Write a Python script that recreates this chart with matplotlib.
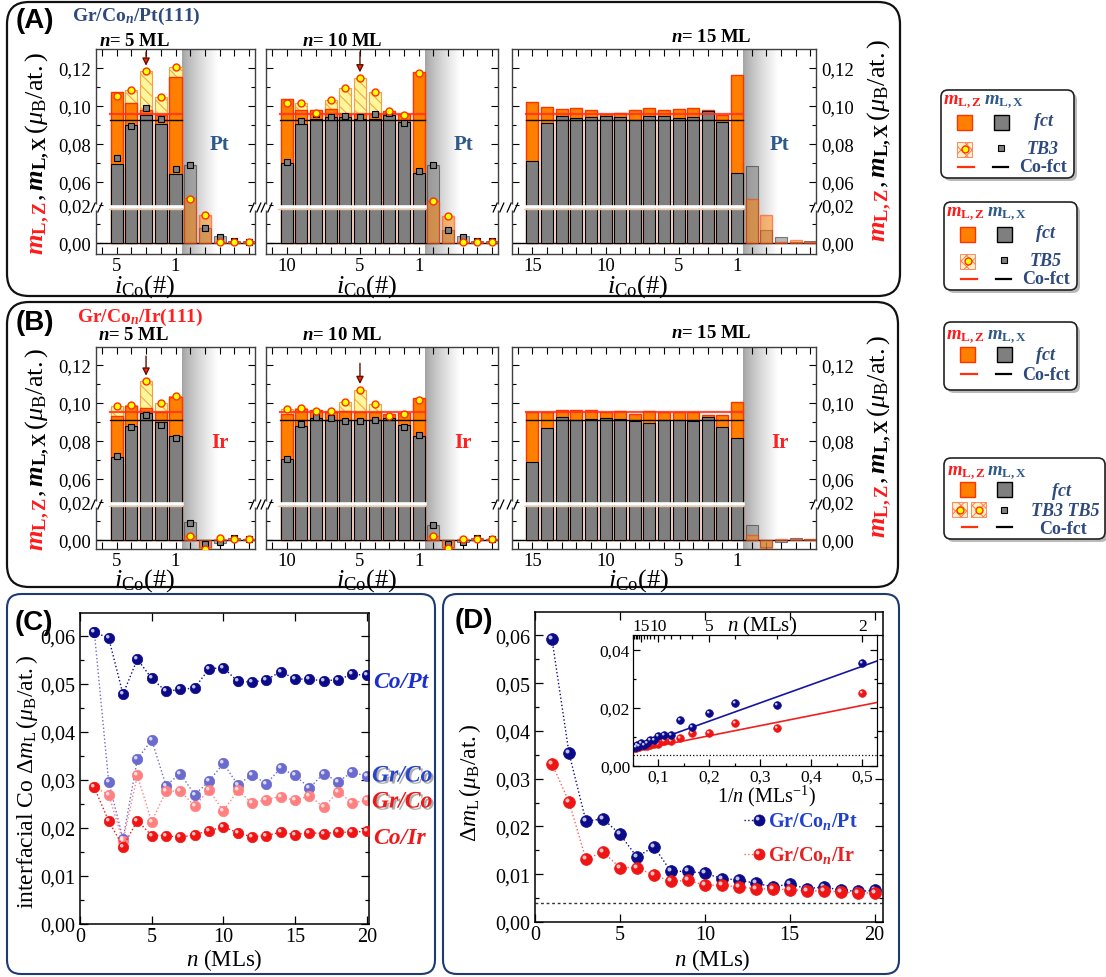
import numpy as np
import matplotlib
matplotlib.use('Agg')
import matplotlib.pyplot as plt
import matplotlib.patheffects as pe
import matplotlib.transforms as mtrans
from matplotlib.patches import Rectangle, FancyBboxPatch
from matplotlib.path import Path
from matplotlib.colors import LinearSegmentedColormap
from matplotlib.ticker import FuncFormatter, MultipleLocator

plt.rcParams['font.family'] = 'Liberation Serif'
plt.rcParams['mathtext.fontset'] = 'custom'
plt.rcParams['mathtext.rm'] = 'Liberation Serif'
plt.rcParams['mathtext.it'] = 'Liberation Serif:italic'
plt.rcParams['mathtext.bf'] = 'Liberation Serif:bold'
plt.rcParams['mathtext.bfit'] = 'Liberation Serif:italic:bold'
plt.rcParams['hatch.linewidth'] = 0.7
plt.rcParams['xtick.direction'] = 'in'
plt.rcParams['ytick.direction'] = 'in'

# ---------------- data: layer resolved orbital moments (A: Pt, B: Ir) ----------------
# Co layers ordered i_Co = n ... 1, then 5 substrate layers
A5_z = [0.1075, 0.1016, 0.0980, 0.0950, 0.1155]
A5_x = [0.0693, 0.0900, 0.0953, 0.0904, 0.0644]
A5_tbz = [0.1052, 0.1086, 0.1182, 0.1049, 0.1203]
A5_tbx = [0.0728, 0.0897, 0.0988, 0.0933, 0.0666]
A5_sub_z = [0.0235, 0.0147, 0.0007, 0.0005, 0.0005]
A5_sub_x = [0.0687, 0.0078, 0.0036, 0.0010, 0.0008]
A5_sub_tbz = [0.0233, 0.0147, 0.0004, 0.0005, 0.0005]
A5_sub_tbx = [0.0687, 0.0078, 0.0031, 0.0008, 0.0006]

A10_z = [0.1035, 0.0980, 0.0977, 0.0984, 0.0958, 0.0958, 0.0960, 0.0972, 0.0956, 0.1180]
A10_x = [0.0700, 0.0904, 0.0932, 0.0940, 0.0940, 0.0932, 0.0932, 0.0953, 0.0914, 0.0646]
A10_tbz = [0.1017, 0.1017, 0.0965, 0.1033, 0.1093, 0.1147, 0.1072, 0.0975, 0.0951, 0.1172]
A10_tbx = [0.0704, 0.0921, 0.0960, 0.0944, 0.0949, 0.0942, 0.0958, 0.0965, 0.0909, 0.0660]
A10_sub_z = [0.0222, 0.0144, 0.0007, 0.0006, 0.0005]
A10_sub_x = [0.0688, 0.0070, 0.0037, 0.0012, 0.0010]
A10_sub_tbz = [0.0222, 0.0141, 0.0004, 0.0005, 0.0003]
A10_sub_tbx = [0.0688, 0.0067, 0.0031, 0.0010, 0.0008]

A15_z = [0.1021, 0.0996, 0.0982, 0.0988, 0.0979, 0.0960, 0.0965, 0.0979, 0.0988, 0.0979,
         0.0982, 0.0988, 0.0980, 0.0954, 0.1161]
A15_x = [0.0709, 0.0909, 0.0947, 0.0938, 0.0942, 0.0947, 0.0942, 0.0928, 0.0945, 0.0945,
         0.0937, 0.0942, 0.0975, 0.0914, 0.0647]
A15_sub_z = [0.0229, 0.0148, 0.0006, 0.0015, 0.0003]
A15_sub_x = [0.0684, 0.0070, 0.0033, 0.0005, 0.0008]

B5_z = [0.0930, 0.0983, 0.0972, 0.0953, 0.1033]
B5_x = [0.0714, 0.0881, 0.0946, 0.0898, 0.0825]
B5_tbz = [0.0984, 0.0988, 0.1114, 0.1000, 0.1037]
B5_tbx = [0.0721, 0.0875, 0.0939, 0.0886, 0.0818]
B5_sub_z = [0.0022, -0.0045, 0.0005, 0.0004, 0.0003]
B5_sub_x = [0.0094, -0.0035, -0.0016, 0.0012, 0.0005]
B5_sub_tbz = [0.0023, -0.0045, 0.0009, 0.0004, 0.0006]
B5_sub_tbx = [0.0092, -0.0021, -0.0010, 0.0010, 0.0005]

B10_z = [0.0942, 0.0968, 0.0963, 0.0954, 0.0956, 0.0954, 0.0951, 0.0940, 0.0949, 0.1026]
B10_x = [0.0704, 0.0881, 0.0923, 0.0912, 0.0912, 0.0912, 0.0912, 0.0920, 0.0884, 0.0825]
B10_tbz = [0.0967, 0.0975, 0.0960, 0.0957, 0.1005, 0.1070, 0.0996, 0.0933, 0.0944, 0.1014]
B10_tbx = [0.0703, 0.0888, 0.0925, 0.0920, 0.0905, 0.0905, 0.0910, 0.0925, 0.0875, 0.0832]
B10_sub_z = [0.0022, -0.0040, 0.0005, 0.0003, 0.0003]
B10_sub_x = [0.0081, -0.0035, -0.0012, 0.0012, 0.0005]
B10_sub_tbz = [0.0022, -0.0040, 0.0008, 0.0003, 0.0005]
B10_sub_tbx = [0.0079, -0.0021, -0.0008, 0.0010, 0.0005]

B15_z = [0.0953, 0.0953, 0.0962, 0.0963, 0.0965, 0.0951, 0.0960, 0.0944, 0.0960, 0.0953,
         0.0953, 0.0953, 0.0939, 0.0939, 0.1005]
B15_x = [0.0691, 0.0870, 0.0925, 0.0912, 0.0917, 0.0919, 0.0916, 0.0907, 0.0896, 0.0909,
         0.0909, 0.0907, 0.0925, 0.0874, 0.0817]
B15_sub_z = [0.0028, -0.0043, 0.0007, 0.0005, 0.0003]
B15_sub_x = [0.0081, -0.0035, -0.0010, 0.0012, 0.0005]

A_fct_z, A_fct_x = 0.0958, 0.0926
B_fct_z, B_fct_x = 0.0952, 0.0912

# ---------------- data: panel C / D ----------------
n_ml = np.arange(1, 21)
dmL_CoPt = [0.0607, 0.0595, 0.0478, 0.0551, 0.0511, 0.0484, 0.0488, 0.0491, 0.0531, 0.0533,
            0.0505, 0.0503, 0.0508, 0.0525, 0.0510, 0.0509, 0.0506, 0.0508, 0.0520, 0.0517]
dmL_GrCo_Pt = [0.0607, 0.0296, 0.0177, 0.0343, 0.0383, 0.0288, 0.0313, 0.0269, 0.0297, 0.0334,
               0.0290, 0.0310, 0.0292, 0.0324, 0.0309, 0.0283, 0.0313, 0.0296, 0.0316, 0.0307]
dmL_GrCo_Ir = [0.0285, 0.0269, 0.0172, 0.0309, 0.0213, 0.0276, 0.0277, 0.0245, 0.0279, 0.0235,
               0.0278, 0.0252, 0.0259, 0.0265, 0.0257, 0.0267, 0.0243, 0.0275, 0.0252, 0.0257]
dmL_CoIr = [0.0284, 0.0214, 0.0161, 0.0215, 0.0184, 0.0184, 0.0180, 0.0186, 0.0194, 0.0202,
            0.0190, 0.0181, 0.0184, 0.0191, 0.0186, 0.0190, 0.0188, 0.0191, 0.0191, 0.0193]

dmL_Pt = [0.0592, 0.0354, 0.0211, 0.0216, 0.0184, 0.0136, 0.0158, 0.0106, 0.0106, 0.0102,
          0.0091, 0.0088, 0.0081, 0.0074, 0.0079, 0.0070, 0.0073, 0.0067, 0.0064, 0.0066]
dmL_Ir = [0.0331, 0.0252, 0.0131, 0.0147, 0.0114, 0.0114, 0.0098, 0.0085, 0.0087, 0.0077,
          0.0077, 0.0073, 0.0070, 0.0069, 0.0068, 0.0065, 0.0065, 0.0063, 0.0061, 0.0061]
dm_limit = 0.004
fit_Pt = (0.063, 0.0029)     # slope, intercept vs 1/n
fit_Ir = (0.0349, 0.00346)
inset_top_n = [15, 10, 5, 2]

# ---------------- helpers ----------------
W, H = 1106, 978
fig = plt.figure(figsize=(W / 100, H / 100), dpi=100)


def add_ax(l, t, r, b):
    return fig.add_axes([l / W, 1 - b / H, (r - l) / W, (b - t) / H])


OFF = 0.0279  # axis break: values above 0.04 are shifted down


def tr(v):
    v = np.asarray(v, float)
    return np.where(v > 0.04, v - OFF, v)


comma = FuncFormatter(lambda v, p: ('%.2f' % v).replace('.', ','))
shade = LinearSegmentedColormap.from_list('shade', ['#a2a2a2', '#ffffff'])
BRK = Path([(-0.5, -0.45), (-0.1, 0.45), (0.1, -0.45), (0.5, 0.45)],
           [Path.MOVETO, Path.LINETO, Path.MOVETO, Path.LINETO])
HL = Path.make_compound_path(Path([(-0.5, -0.5), (0.5, 0.5)], [Path.MOVETO, Path.MOVETO]),
                             Path.circle((-0.17, 0.17), 0.17))

ORANGE, ORED = '#FF8000', '#FF3300'
GRAY = '#7f7f7f'


def ball(ax, x, y, col, ms, z=5):
    ax.plot(x, y, ls='none', marker='o', ms=ms, mfc=col, mec=col, mew=0.5, zorder=z)
    ax.plot(x, y, ls='none', marker=HL, ms=ms, mfc='white', mec='none', alpha=0.75, zorder=z + 0.1)


def bar_panel(ax, n, co_z, co_x, sub_z, sub_x, fct_z, fct_x, ylim,
              tb_z=None, tb_x=None, sub_tbz=None, sub_tbx=None, arrow=None, arrow_top=0.1,
              lab_left=False, lab_right=False):
    ico = np.arange(n)
    isub = np.arange(n, n + 5)
    xl = (-1.4, n + 4.4)
    xs = n - 0.57
    g = np.clip(np.linspace(0, (xl[1] - xs) / 2.4, 400), 0, 1) ** 0.8
    ax.imshow(g[None, :], extent=[xs, xl[1], ylim[0], ylim[1]], aspect='auto', cmap=shade,
              vmin=0, vmax=1, zorder=0.5, interpolation='bilinear')
    ax.axhline(0, color='k', lw=1, zorder=1)
    if tb_z is not None:
        ax.bar(ico, tr(tb_z), 0.82, fc='#FFF59A', ec='#F5A040', lw=0.8, hatch='\\\\\\', zorder=2)
    ax.bar(ico, tr(co_z), 0.82, fc=ORANGE, ec=ORED, lw=1, zorder=3)
    ax.bar(ico, tr(co_x), 0.82, fc=GRAY, ec='k', lw=0.8, zorder=4)
    ax.bar(isub, tr(sub_x), 0.82, fc='#8a8a8a', ec='#333333', lw=0.8, alpha=0.6, zorder=4)
    ax.bar(isub, tr(sub_z), 0.82, fc=ORANGE, ec=ORED, lw=1, alpha=0.5, zorder=4.5)
    ax.plot([-0.55, xs], [0.0192, 0.0192], color='white', lw=2.6, zorder=6)
    ax.plot([-0.55, xs], [0.0180, 0.0180], color='#E9C9A8', lw=1, zorder=6)
    ax.plot([-0.45, xs], [tr(fct_z)] * 2, color='#FF3020', lw=1.6, alpha=0.85, zorder=7)
    ax.plot([-0.45, xs], [tr(fct_x)] * 2, color='k', lw=1, zorder=7)
    if tb_x is not None:
        allx = np.concatenate([ico, isub])
        ax.plot(allx, tr(list(tb_x) + list(sub_tbx)), 's', ms=4.5, mfc='#808080', mec='k', mew=0.8, zorder=8)
        ax.plot(allx, tr(list(tb_z) + list(sub_tbz)), 'o', ms=5, mfc='#FFFF00', mec='#FF3000', mew=1, zorder=9)
    if arrow is not None:
        ax.annotate('', xy=(arrow, float(tr(tb_z[arrow])) + 0.003), xytext=(arrow, arrow_top),
                    arrowprops=dict(arrowstyle='-|>', ec='#601000', fc='#FF2800', lw=1,
                                    mutation_scale=11, shrinkA=0, shrinkB=0), zorder=10)
    bt = mtrans.blended_transform_factory(ax.transAxes, ax.transData)
    ax.plot([0, 1], [0.0192, 0.0192], transform=bt, marker='s', ms=4, mfc='white', mec='none',
            ls='none', clip_on=False, zorder=11)
    ax.plot([0, 1], [0.0192, 0.0192], transform=bt, marker=BRK, ms=8, mec='k', mew=0.9,
            ls='none', clip_on=False, zorder=12)
    ax.set_xlim(xl)
    ax.set_ylim(ylim)
    ticks = np.arange(-1, n + 5)
    labs = []
    for t in ticks:
        layer = n - t
        labs.append(str(layer) if 1 <= layer <= n and (layer == n or layer == 1 or layer % 5 == 0) else '')
    ax.set_xticks(ticks, labs)
    ax.tick_params(axis='x', top=True, length=5, width=0.8, labelsize=13.5, pad=2)
    yv = [0, 0.02, 0.06, 0.08, 0.10, 0.12]
    ax.set_yticks(tr(yv), [('%.2f' % v).replace('.', ',') for v in yv])
    ax.set_yticks(tr([0.01, 0.07, 0.09, 0.11]), minor=True)
    ax.tick_params(axis='y', which='both', left=True, right=True, labelleft=lab_left,
                   labelright=lab_right, labelsize=13.5, width=0.8)
    ax.tick_params(axis='y', which='major', length=5)
    ax.tick_params(axis='y', which='minor', length=3)
    for s in ax.spines.values():
        s.set_color('#404040')
        s.set_linewidth(1)


yl_A = (-0.0058, 0.1021)
yl_B = (-0.0047, 0.1016)

axA1 = add_ax(96, 50, 255, 255)
bar_panel(axA1, 5, A5_z, A5_x, A5_sub_z, A5_sub_x, A_fct_z, A_fct_x, yl_A,
          A5_tbz, A5_tbx, A5_sub_tbz, A5_sub_tbx, arrow=2, arrow_top=0.1005, lab_left=True)
axA2 = add_ax(266, 50, 498, 255)
bar_panel(axA2, 10, A10_z, A10_x, A10_sub_z, A10_sub_x, A_fct_z, A_fct_x, yl_A,
          A10_tbz, A10_tbx, A10_sub_tbz, A10_sub_tbx, arrow=5, arrow_top=0.1005)
axA3 = add_ax(512, 50, 816, 255)
bar_panel(axA3, 15, A15_z, A15_x, A15_sub_z, A15_sub_x, A_fct_z, A_fct_x, yl_A, lab_right=True)

axB1 = add_ax(96, 348, 255, 550)
bar_panel(axB1, 5, B5_z, B5_x, B5_sub_z, B5_sub_x, B_fct_z, B_fct_x, yl_B,
          B5_tbz, B5_tbx, B5_sub_tbz, B5_sub_tbx, arrow=2, arrow_top=0.0968, lab_left=True)
axB2 = add_ax(266, 348, 498, 550)
bar_panel(axB2, 10, B10_z, B10_x, B10_sub_z, B10_sub_x, B_fct_z, B_fct_x, yl_B,
          B10_tbz, B10_tbx, B10_sub_tbz, B10_sub_tbx, arrow=5, arrow_top=0.093)
axB3 = add_ax(512, 348, 816, 550)
bar_panel(axB3, 15, B15_z, B15_x, B15_sub_z, B15_sub_x, B_fct_z, B_fct_x, yl_B, lab_right=True)

# ---------------- panel C ----------------
c_navy, c_lblue, c_lred, c_red = '#0B0B8A', '#6B6BCF', '#FF8080', '#F01515'
axC = add_ax(80, 614, 369, 925)
for vals, col, z in [(dmL_GrCo_Pt, c_lblue, 2), (dmL_GrCo_Ir, c_lred, 2),
                     (dmL_CoIr, c_red, 4), (dmL_CoPt, c_navy, 4)]:
    axC.plot(n_ml, vals, ':', color=col, lw=1, zorder=z)
    ball(axC, n_ml, vals, col, 7.5, z=z + 0.5)
axC.set_xlim(0, 20.16)
axC.set_ylim(0, 0.0647)
axC.xaxis.set_major_locator(MultipleLocator(5))
axC.yaxis.set_major_locator(MultipleLocator(0.01))
axC.yaxis.set_minor_locator(MultipleLocator(0.005))
axC.yaxis.set_major_formatter(comma)

# ---------------- panel D ----------------
axD = add_ax(535, 613, 883, 923)
axD.axhline(dm_limit, color='#333333', lw=1, ls=(0, (2, 2)), zorder=1)
axD.plot(n_ml, dmL_Ir, ':', color='#FF6060', lw=1, zorder=2)
ball(axD, n_ml, dmL_Ir, c_red, 8.5, z=3)
axD.plot(n_ml, dmL_Pt, ':', color=c_navy, lw=1, zorder=2)
ball(axD, n_ml, dmL_Pt, c_navy, 8.5, z=2.5)
axD.set_xlim(0, 20.49)
axD.set_ylim(0, 0.0649)
axD.xaxis.set_major_locator(MultipleLocator(5))
axD.yaxis.set_major_locator(MultipleLocator(0.01))
axD.yaxis.set_minor_locator(MultipleLocator(0.005))
axD.yaxis.set_major_formatter(comma)

for ax in (axC, axD):
    ax.tick_params(which='both', top=True, right=True, labelsize=14.5, width=0.9)
    ax.tick_params(axis='x', pad=2)
    ax.tick_params(which='major', length=6)
    ax.tick_params(which='minor', length=3)
    for s in ax.spines.values():
        s.set_linewidth(1.1)

# inset
axI = add_ax(633, 636, 877, 767)
inv_n = 1.0 / n_ml[1:]
xfit = np.array([0.05, 0.529])
axI.axhline(dm_limit - 0.0003, color='k', lw=0.9, ls=':', zorder=1)
axI.plot(xfit, fit_Pt[0] * xfit + fit_Pt[1], color='#1515A0', lw=1.2, zorder=2)
axI.plot(xfit, fit_Ir[0] * xfit + fit_Ir[1], color='#F02020', lw=1.2, zorder=2)
ball(axI, inv_n, dmL_Ir[1:], c_red, 5.5, z=3)
ball(axI, inv_n, dmL_Pt[1:], c_navy, 5.5, z=3.5)
axI.set_xlim(0.05, 0.529)
axI.set_ylim(0, 0.0452)
axI.xaxis.set_major_locator(MultipleLocator(0.1))
axI.xaxis.set_minor_locator(MultipleLocator(0.05))
axI.yaxis.set_major_locator(MultipleLocator(0.02))
axI.yaxis.set_minor_locator(MultipleLocator(0.01))
axI.xaxis.set_major_formatter(FuncFormatter(lambda v, p: ('%.1f' % v).replace('.', ',')))
axI.yaxis.set_major_formatter(comma)
axI.tick_params(which='both', right=True, labelsize=12.5, width=0.9, pad=2)
axI.tick_params(which='major', length=5)
axI.tick_params(which='minor', length=2.5)
axT = axI.twiny()
axT.set_xlim(axI.get_xlim())
axT.set_xticks(1.0 / np.array(inset_top_n), [str(v) for v in inset_top_n])
axT.set_xticks(1.0 / n_ml[1:], minor=True)
axT.tick_params(which='both', labelsize=12.5, pad=1, width=0.9)
axT.tick_params(which='major', length=5)
axT.tick_params(which='minor', length=3)

# ---------------- overlay canvas in pixel coordinates ----------------
cv = fig.add_axes([0, 0, 1, 1], zorder=20)
cv.set_xlim(0, W)
cv.set_ylim(H, 0)
cv.axis('off')

rb = 'round,pad=0,rounding_size=%d'
cv.add_patch(FancyBboxPatch((7, 3), 893, 294, boxstyle=rb % 22, fc='none', ec='#111111', lw=1.6))
cv.add_patch(FancyBboxPatch((7, 303), 891, 285, boxstyle=rb % 22, fc='none', ec='#111111', lw=1.6))
cv.add_patch(FancyBboxPatch((7, 595), 428, 380, boxstyle=rb % 14, fc='none', ec='#1F3A70', lw=1.5))
cv.add_patch(FancyBboxPatch((443, 595), 456, 380, boxstyle=rb % 14, fc='none', ec='#1F3A70', lw=1.5))

SANS = 'Liberation Sans'
BLU = '#2E4A7D'
for lab, y in [('(A)', 21), ('(B)', 323)]:
    cv.text(35, y, lab, fontsize=20, fontweight='bold', family=SANS, ha='center', va='center')
cv.text(34, 623, '(C)', fontsize=20, fontweight='bold', family=SANS, ha='center', va='center')
cv.text(474, 621, '(D)', fontsize=20, fontweight='bold', family=SANS, ha='center', va='center')
cv.text(72, 16, r'Gr/Co$_{\mathbfit{n}}$/Pt(111)', fontsize=14, fontweight='bold', color=BLU, va='center')
cv.text(77, 317, r'Gr/Co$_{\mathbfit{n}}$/Ir(111)', fontsize=14, fontweight='bold', color='#FF2020', va='center')

for nn, x, y in [(5, 135, 41), (10, 342, 41), (15, 711, 38), (5, 134, 335), (10, 342, 335), (15, 711, 334)]:
    cv.text(x, y, r'$\mathbfit{n}$= %d ML' % nn, fontsize=13.5, fontweight='bold', ha='center', va='center')
for x, y in [(145, 287), (367, 287), (638, 287), (145, 581), (367, 581), (639, 581)]:
    cv.text(x, y, r'$i_{\mathrm{Co}}$(#)', fontsize=19, ha='center', va='center')
for x in (220, 463, 780):
    cv.text(x, 145, 'Pt', fontsize=15, fontweight='bold', color='#2E5A8A', ha='center', va='center')
    cv.text(x, 443, 'Ir', fontsize=15, fontweight='bold', color='#FF2020', ha='center', va='center')


def ylab2(x, ys, fs=19):
    cv.text(x, ys, r'$\mathbfit{m}_{\mathbf{L,Z}}$', color='#FF1A1A', rotation=90,
            rotation_mode='anchor', ha='right', va='baseline', fontsize=fs)
    cv.text(x, ys, r'$,\mathbfit{m}_{\mathbf{L,X}}\,(\mu_{\mathrm{B}}/\mathrm{at.})$', color='k',
            rotation=90, rotation_mode='anchor', ha='left', va='baseline', fontsize=fs)


ylab2(44, 201)
ylab2(44, 497)
ylab2(886, 188)
ylab2(886, 484)

# panel C / D labels
cv.text(27, 782, r'interfacial Co $\Delta m_{\mathrm{L}}\,(\mu_{\mathrm{B}}/\mathrm{at.})$', rotation=90,
        fontsize=17, ha='center', va='center')
cv.text(470, 783, r'$\Delta m_{\mathrm{L}}\,(\mu_{\mathrm{B}}/\mathrm{at.})$', rotation=90,
        fontsize=17, ha='center', va='center')
cv.text(224, 960, r'$n$ (MLs)', fontsize=16.5, ha='center', va='center')
cv.text(712, 960, r'$n$ (MLs)', fontsize=16.5, ha='center', va='center')
cv.text(766, 796, r'1/$n$ (MLs$^{\mathrm{-1}}$)', fontsize=14.5, ha='center', va='center')
cv.text(762, 626, r'$n$ (MLs)', fontsize=15, ha='center', va='center')

shadow = [pe.withSimplePatchShadow(offset=(1.5, -1.5), shadow_rgbFace='#777777', alpha=0.6)]
cv.text(373, 682, 'Co/Pt', fontsize=17, fontweight='bold', style='italic', color='#1A2FCC', va='center')
cv.text(372, 777, 'Gr/Co', fontsize=17, fontweight='bold', style='italic', color='#2C45C8', va='center',
        path_effects=shadow)
cv.text(372, 803, 'Gr/Co', fontsize=17, fontweight='bold', style='italic', color='#EE1A1A', va='center',
        path_effects=shadow)
cv.text(373, 839, 'Co/Ir', fontsize=17, fontweight='bold', style='italic', color='#EE1A1A', va='center')

# panel D legend
for y, col, lcol, txt, tcol in [(821, c_navy, c_navy, r'Gr/Co$_{\mathbfit{n}}$/Pt', '#2040D0'),
                                 (855, c_red, '#FF6060', r'Gr/Co$_{\mathbfit{n}}$/Ir', '#E82020')]:
    cv.plot([744, 759], [y, y], ':', color=lcol, lw=1)
    ball(cv, [759], [y], col, 8, z=5)
    cv.text(768, y + 1, txt, fontsize=14.5, fontweight='bold', color=tcol, va='center')


# right-hand legends for panels A and B
def lbox(l, t, r, b):
    cv.add_patch(FancyBboxPatch((l + 3, t + 3), r - l, b - t, boxstyle=rb % 7, fc='#8c8c8c',
                                ec='none', alpha=0.6, zorder=1))
    cv.add_patch(FancyBboxPatch((l, t), r - l, b - t, boxstyle=rb % 7, fc='white', ec='#222222',
                                lw=1.2, zorder=2))


def lhead(xz, xx, y):
    cv.text(xz, y, r'$\mathbfit{m}_{\mathbf{L,Z}}$', color='#FF1A1A', fontsize=13.5, ha='center', va='center', zorder=3)
    cv.text(xx, y, r'$\mathbfit{m}_{\mathbf{L,X}}$', color='#2E5A8A', fontsize=13.5, ha='center', va='center', zorder=3)


def lsq(x, y, fc, ec, s=15):
    cv.add_patch(Rectangle((x - s / 2, y - s / 2), s, s, fc=fc, ec=ec, lw=1, zorder=3))


def ltb(x, y):
    cv.add_patch(Rectangle((x - 7.5, y - 7.5), 15, 15, fc='#FFF0C8', ec='#FF7A50', lw=0.6,
                           hatch='xxx', zorder=3))
    cv.plot([x], [y], 'o', ms=5, mfc='#FFFF00', mec='#FF3000', mew=1, zorder=4)


def lline(x0, x1, y, col):
    cv.plot([x0, x1], [y, y], color=col, lw=1.6, zorder=3)


def ltxt(x, y, s, italic=True, fs=13):
    cv.text(x, y, s, fontsize=fs, fontweight='bold', style='italic' if italic else 'normal',
            color=BLU, ha='center', va='center', zorder=3)


for dy, tb in [(0, 'TB3'), (112, 'TB5')]:
    ox = 3 if dy else 0
    lbox(941 + ox, 91 + dy, 1074 + ox, 179 + dy)
    lhead(962 + ox, 1004 + ox, 102 + dy)
    lsq(964.5 + ox, 123 + dy, ORANGE, ORED)
    lsq(1001 + ox, 123 + dy, GRAY, 'k')
    ltxt(1043 + ox, 122 + dy, 'fct')
    ltb(964.5 + ox, 150 + dy)
    cv.plot([1001 + ox], [149 + dy], 's', ms=4.5, mfc='#808080', mec='k', mew=0.8, zorder=4)
    ltxt(1043 + ox, 150 + dy, tb)
    lline(958 + ox, 974 + ox, 168 + dy, '#FF3010')
    lline(993 + ox, 1008 + ox, 168 + dy, 'k')
    ltxt(1043 + ox, 168 + dy, 'Co-fct', italic=False)

lbox(944, 323, 1077, 391)
lhead(965, 1007, 337)
lsq(967, 355, ORANGE, ORED)
lsq(1004, 355, GRAY, 'k')
ltxt(1046, 355, 'fct')
lline(961, 977, 375, '#FF3010')
lline(996, 1011, 375, 'k')
ltxt(1046, 375, 'Co-fct', italic=False)

lbox(944, 459, 1105, 540)
lhead(966, 1007, 473)
lsq(967.5, 490.5, ORANGE, ORED)
lsq(1004.5, 490.5, GRAY, 'k')
ltxt(1062, 491, 'fct')
ltb(959.5, 510.7)
ltb(978.5, 510.7)
cv.plot([1004], [510.7], 's', ms=4.5, mfc='#808080', mec='k', mew=0.8, zorder=4)
ltxt(1065, 511, 'TB3 TB5')
lline(962, 977, 528, '#FF3010')
lline(997, 1012, 528, 'k')
ltxt(1063, 529, 'Co-fct', italic=False)

fig.savefig('out.png', dpi=100)
